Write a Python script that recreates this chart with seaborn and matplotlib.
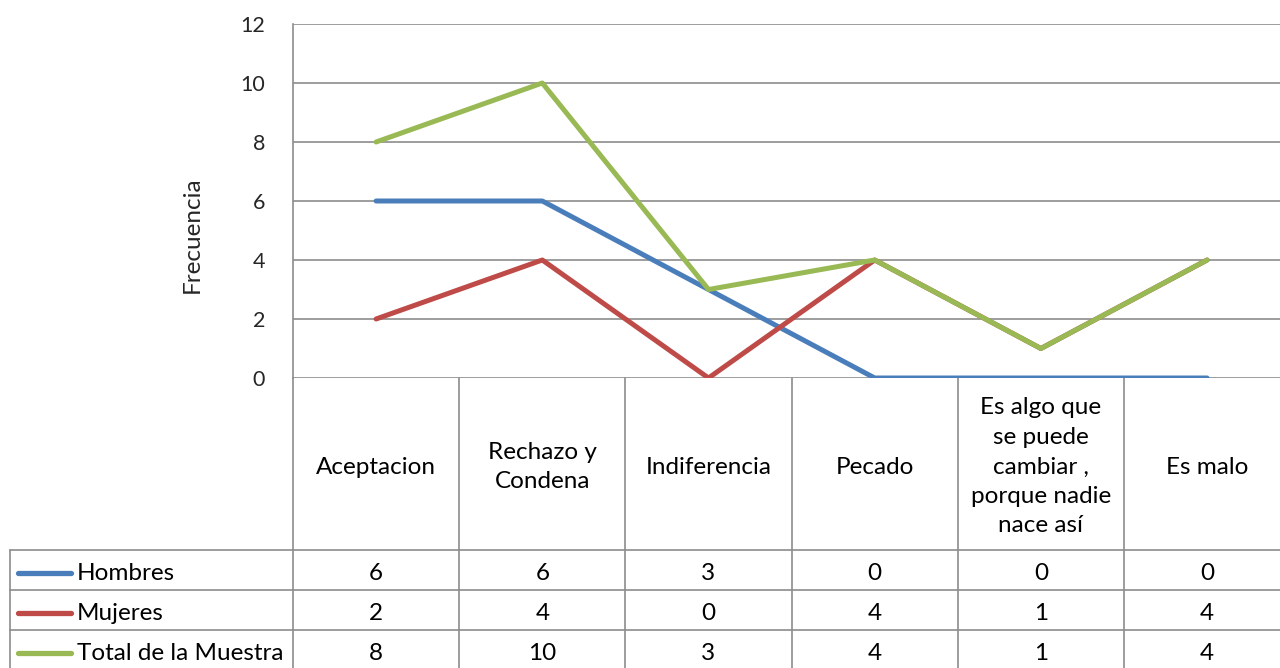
import matplotlib
matplotlib.use("Agg")
import matplotlib.pyplot as plt
import numpy as np
import pandas as pd
import seaborn as sns

categories = ["Aceptacion", "Rechazo y\nCondena", "Indiferencia", "Pecado",
              "Es algo que\nse puede\ncambiar ,\nporque nadie\nnace así", "Es malo"]
series = ["Hombres", "Mujeres", "Total de la Muestra"]
hombres = [6, 6, 3, 0, 0, 0]
mujeres = [2, 4, 0, 4, 1, 4]
total = [8, 10, 3, 4, 1, 4]
colors = {"Hombres": "#4A7EBB", "Mujeres": "#BE4B48", "Total de la Muestra": "#98B954"}

sns.set_theme(style="white")
plt.rcParams["font.family"] = ["Lato", "DejaVu Sans"]
GRID = "#8C8C8C"
FS = 17.5

df = pd.DataFrame({
    "pos": list(range(len(categories))) * 3,
    "valor": hombres + mujeres + total,
    "serie": [s for s in series for _ in categories],
})

W, H = 1280, 668
fig = plt.figure(figsize=(W / 100, H / 100), dpi=100)

# table / frame layer in pixel coordinates
tab = fig.add_axes([0, 0, 1, 1])
tab.set_xlim(0, W)
tab.set_ylim(H, 0)
tab.axis("off")

x0, col_w = 293, 166.2
y_zero, y_top = 378, 24
y_head = 550
row_h = 40

ax = fig.add_axes([x0 / W, 1 - y_zero / H, col_w * 6 / W, (y_zero - y_top) / H])
sns.lineplot(data=df, x="pos", y="valor", hue="serie", palette=colors,
             linewidth=3.6, ax=ax, legend=False, sort=False)
ax.set_xlim(-0.5, 5.5)
ax.set_ylim(0, 12)
ax.set_yticks(range(0, 13, 2))
ax.set_xticks([])
ax.set_xlabel("")
ax.set_ylabel("Frecuencia", fontsize=FS)
ax.yaxis.set_label_coords(-0.091, 0.404)
ax.tick_params(axis="y", length=0, pad=20, labelsize=15.5)
ax.yaxis.grid(True, color=GRID, lw=1.2)
ax.set_axisbelow(True)
for s in ["top", "right", "bottom"]:
    ax.spines[s].set_visible(False)
ax.spines["left"].set_color(GRID)
ax.spines["left"].set_linewidth(1.2)
ax.patch.set_alpha(0)

# table grid
edges = [x0 + col_w * i for i in range(7)]
for xe in edges:
    tab.plot([xe, xe], [y_zero, H], color=GRID, lw=1.2)
tab.plot([10, 10], [y_head, H], color=GRID, lw=1.2)
for k in range(3):
    yy = y_head + row_h * k
    tab.plot([10, W], [yy, yy], color=GRID, lw=1.2)

# category header labels
for i, cat in enumerate(categories):
    cx = x0 + col_w * (i + 0.5)
    tab.text(cx, 467, cat, ha="center", va="center",
             fontsize=FS, linespacing=1.5, color="black")

# data rows with legend keys
for r, (name, vals) in enumerate(zip(series, [hombres, mujeres, total])):
    cy = y_head + row_h * r + row_h / 2 + 3
    tab.plot([18, 71], [cy, cy], color=colors[name], lw=3.8, solid_capstyle="round")
    tab.text(77, cy, name, ha="left", va="center", fontsize=FS, color="black")
    for i, v in enumerate(vals):
        tab.text(x0 + col_w * (i + 0.5), cy, str(v), ha="center", va="center",
                 fontsize=FS, color="black")

fig.savefig("out.png", dpi=100)
